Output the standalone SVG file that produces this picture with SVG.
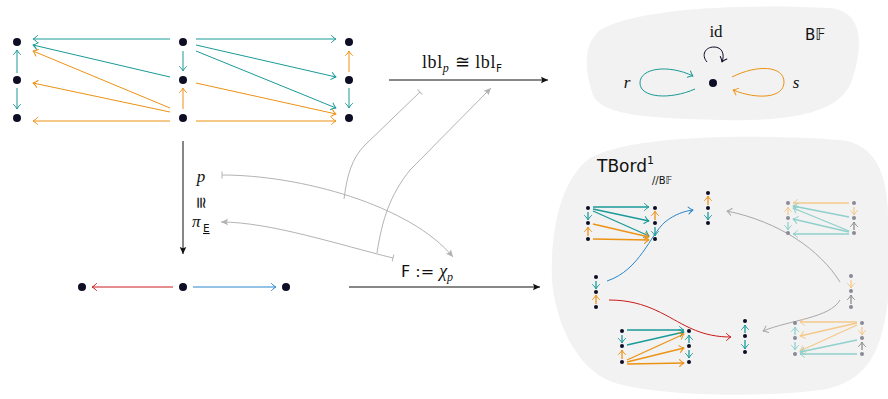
<svg xmlns="http://www.w3.org/2000/svg" width="888" height="399" viewBox="0 0 888 399">
<style>
.n{fill:#0d0d26}
.nf{fill:#8a8a99}
.ln{fill:none;stroke-width:1}
.sm{fill:none;stroke-width:1.3}
.t{stroke:#1a9a98}
.o{stroke:#ec9215}
.lt{stroke:#8fd0cc}
.lo{stroke:#f5c98a}
.gs{stroke:#8c8c8c}
.gc{fill:none;stroke:#b3b3b3;stroke-width:1}
.blob{fill:#f2f2f2}
.serif{font-family:"Liberation Serif","DejaVu Serif",serif;fill:#111}
.sans{font-family:"DejaVu Sans","Noto Sans",sans-serif;fill:#111}
.mh{fill:none;stroke-width:1;stroke-linecap:round;stroke-linejoin:round}
</style>
<defs>
<marker id="ht" viewBox="-6 -5 8 10" refX="0" refY="0" markerWidth="8" markerHeight="10" markerUnits="userSpaceOnUse" orient="auto"><path class="mh" stroke="#1a9a98" d="M-4.5,-3.5 C-2.5,-1.3 -0.8,-0.4 0,0 C-0.8,0.4 -2.5,1.3 -4.5,3.5"/></marker>
<marker id="ho" viewBox="-6 -5 8 10" refX="0" refY="0" markerWidth="8" markerHeight="10" markerUnits="userSpaceOnUse" orient="auto"><path class="mh" stroke="#ec9215" d="M-4.5,-3.5 C-2.5,-1.3 -0.8,-0.4 0,0 C-0.8,0.4 -2.5,1.3 -4.5,3.5"/></marker>
<marker id="hlt" viewBox="-6 -5 8 10" refX="0" refY="0" markerWidth="8" markerHeight="10" markerUnits="userSpaceOnUse" orient="auto"><path class="mh" stroke="#8fd0cc" d="M-4.5,-3.5 C-2.5,-1.3 -0.8,-0.4 0,0 C-0.8,0.4 -2.5,1.3 -4.5,3.5"/></marker>
<marker id="hlo" viewBox="-6 -5 8 10" refX="0" refY="0" markerWidth="8" markerHeight="10" markerUnits="userSpaceOnUse" orient="auto"><path class="mh" stroke="#f5c98a" d="M-4.5,-3.5 C-2.5,-1.3 -0.8,-0.4 0,0 C-0.8,0.4 -2.5,1.3 -4.5,3.5"/></marker>
<marker id="hgs" viewBox="-6 -5 8 10" refX="0" refY="0" markerWidth="8" markerHeight="10" markerUnits="userSpaceOnUse" orient="auto"><path class="mh" stroke="#8c8c8c" d="M-4.5,-3.5 C-2.5,-1.3 -0.8,-0.4 0,0 C-0.8,0.4 -2.5,1.3 -4.5,3.5"/></marker>
<marker id="hgc" viewBox="-6 -5 8 10" refX="0" refY="0" markerWidth="8" markerHeight="10" markerUnits="userSpaceOnUse" orient="auto"><path class="mh" stroke="#a8a8a8" d="M-4.5,-3.5 C-2.5,-1.3 -0.8,-0.4 0,0 C-0.8,0.4 -2.5,1.3 -4.5,3.5"/></marker>
<marker id="hr" viewBox="-6 -5 8 10" refX="0" refY="0" markerWidth="8" markerHeight="10" markerUnits="userSpaceOnUse" orient="auto"><path class="mh" stroke="#cc1a1a" d="M-4.5,-3.5 C-2.5,-1.3 -0.8,-0.4 0,0 C-0.8,0.4 -2.5,1.3 -4.5,3.5"/></marker>
<marker id="hb" viewBox="-6 -5 8 10" refX="0" refY="0" markerWidth="8" markerHeight="10" markerUnits="userSpaceOnUse" orient="auto"><path class="mh" stroke="#2a86cc" d="M-4.5,-3.5 C-2.5,-1.3 -0.8,-0.4 0,0 C-0.8,0.4 -2.5,1.3 -4.5,3.5"/></marker>
<marker id="hn" viewBox="-6 -5 8 10" refX="0" refY="0" markerWidth="8" markerHeight="10" markerUnits="userSpaceOnUse" orient="auto"><path class="mh" stroke="#0d0d26" d="M-4.5,-3.5 C-2.5,-1.3 -0.8,-0.4 0,0 C-0.8,0.4 -2.5,1.3 -4.5,3.5"/></marker>
<marker id="fk" viewBox="-8 -5 9 10" refX="0" refY="0" markerWidth="9" markerHeight="10" markerUnits="userSpaceOnUse" orient="auto"><path fill="#111" d="M-7,-3.3 L0,0 L-7,3.3 L-5.8,0 Z"/></marker>
<marker id="fg" viewBox="-8 -5 9 10" refX="0" refY="0" markerWidth="9" markerHeight="10" markerUnits="userSpaceOnUse" orient="auto"><path fill="#b3b3b3" d="M-7,-3.3 L0,0 L-7,3.3 L-5.8,0 Z"/></marker>
<marker id="bar" viewBox="-2 -5 4 10" refX="0" refY="0" markerWidth="4" markerHeight="10" markerUnits="userSpaceOnUse" orient="auto"><path stroke="#b3b3b3" stroke-width="1" d="M0,-3.5 L0,3.5"/></marker>
</defs>

<g id="blob-top"><path class="blob" d="M600,30 C640,6 760,4 830,8 C866,12 862,50 852,80 C842,110 800,122 720,120 C650,118 602,116 593,95 C585,72 582,45 600,30 Z"/></g>
<g id="blob-bottom"><path class="blob" d="M590,158 C632,134 760,134 840,140 C878,144 888,178 888,220 L888,300 C882,345 872,382 820,390 C760,398 652,396 612,382 C575,368 555,320 552,280 C550,232 560,180 590,158 Z"/></g>

<g id="graph-top">
<g id="n-l1"><circle class="n" cx="17" cy="42" r="4"/></g>
<g id="n-l2"><circle class="n" cx="17" cy="80" r="4"/></g>
<g id="n-l3"><circle class="n" cx="17" cy="118" r="4"/></g>
<g id="n-m1"><circle class="n" cx="183" cy="42" r="4"/></g>
<g id="n-m2"><circle class="n" cx="183" cy="80" r="4"/></g>
<g id="n-m3"><circle class="n" cx="183" cy="118" r="4"/></g>
<g id="n-r1"><circle class="n" cx="349" cy="42" r="4"/></g>
<g id="n-r2"><circle class="n" cx="349" cy="80" r="4"/></g>
<g id="n-r3"><circle class="n" cx="349" cy="118" r="4"/></g>
</g>

<g id="graph-bottom">
<g id="n-b1"><circle class="n" cx="82" cy="287" r="4"/></g>
<g id="n-b2"><circle class="n" cx="183" cy="287" r="4"/></g>
<g id="n-b3"><circle class="n" cx="286" cy="287" r="4"/></g>
</g>

<g id="connectors">
<path class="ln t" d="M170,39 L33,39" marker-end="url(#ht)"/>
<path class="ln t" d="M170,77 L33,45" marker-end="url(#ht)"/>
<path class="ln o" d="M170,108 L33,51" marker-end="url(#ho)"/>
<path class="ln o" d="M170,112 L33,83" marker-end="url(#ho)"/>
<path class="ln o" d="M170,121 L33,121" marker-end="url(#ho)"/>
<path class="ln t" d="M196,39 L336,39" marker-end="url(#ht)"/>
<path class="ln t" d="M196,45 L336,77" marker-end="url(#ht)"/>
<path class="ln t" d="M196,51 L336,108" marker-end="url(#ht)"/>
<path class="ln o" d="M196,83 L336,114" marker-end="url(#ho)"/>
<path class="ln o" d="M196,121 L336,121" marker-end="url(#ho)"/>
<path class="ln t" d="M17,73 L17,50" marker-end="url(#ht)"/>
<path class="ln t" d="M17,88 L17,109" marker-end="url(#ht)"/>
<path class="ln t" d="M183,51 L183,71" marker-end="url(#ht)"/>
<path class="ln o" d="M183,109 L183,88" marker-end="url(#ho)"/>
<path class="ln o" d="M349,72 L349,51" marker-end="url(#ho)"/>
<path class="ln t" d="M349,88 L349,108" marker-end="url(#ht)"/>
<path class="ln" stroke="#cc1a1a" d="M173,287 L92,287" marker-end="url(#hr)"/>
<path class="ln" stroke="#2a86cc" d="M193,287 L276,287" marker-end="url(#hb)"/>
<path class="ln" stroke="#111" d="M183,141 L183,254" marker-end="url(#fk)"/>
<path class="ln" stroke="#111" d="M389,80 L548,80" marker-end="url(#fk)"/>
<path class="ln" stroke="#111" d="M349,287 L540,287" marker-end="url(#fk)"/>
<path class="gc" d="M222,175 C300,175 410,205 453,257" marker-start="url(#bar)" marker-end="url(#fg)"/>
<path class="gc" d="M393,258 C340,245 270,222 221,222" marker-start="url(#bar)" marker-end="url(#fg)"/>
<path class="gc" d="M344,199 C347,175 352,158 365,145 L420,92" marker-end="url(#bar)"/>
<path class="gc" d="M377,253 C382,220 390,195 410,170 L491,88" marker-end="url(#fg)"/>
<path class="ln" stroke="#0d0d26" d="M707,62 C701,55 705,47 714,47 C722,47 725,54 722,62" marker-end="url(#hn)"/>
<path class="ln t" d="M695,89 C670,100 640,98 640,83 C640,68 668,64 693,76" marker-end="url(#ht)"/>
<path class="ln o" d="M732,77 C758,64 784,66 784,82 C784,98 758,100 733,90" marker-end="url(#ho)"/>
<path class="ln" stroke="#2a86cc" d="M607,281 C640,270 650,235 665,222 C675,214 685,211 693,210" marker-end="url(#hb)"/>
<path class="ln" stroke="#cc1a1a" d="M609,300 C648,300 668,318 690,328 C705,335 718,337 731,337" marker-end="url(#hr)"/>
<path class="ln" stroke="#a8a8a8" d="M840,282 C820,250 780,222 727,211" marker-end="url(#hgc)"/>
<path class="ln" stroke="#a8a8a8" d="M840,300 C830,318 790,320 763,331" marker-end="url(#hgc)"/>
</g>

<g id="bf-point">
<circle class="n" cx="713" cy="83" r="4"/>
</g>

<g id="mini-a">
<circle class="n" cx="588" cy="208" r="2"/><circle class="n" cx="588" cy="223" r="2"/><circle class="n" cx="588" cy="239" r="2"/>
<circle class="n" cx="655" cy="208" r="2"/><circle class="n" cx="655" cy="223" r="2"/><circle class="n" cx="655" cy="239" r="2"/>
<path class="sm t" d="M593,207 L649,207" marker-end="url(#ht)"/>
<path class="sm t" d="M593,209 L649,221" marker-end="url(#ht)"/>
<path class="sm t" d="M593,211 L649,236" marker-end="url(#ht)"/>
<path class="sm o" d="M593,224 L649,237" marker-end="url(#ho)"/>
<path class="sm o" d="M593,239 L649,240" marker-end="url(#ho)"/>
<path class="sm t" d="M588,212 L588,220" marker-end="url(#ht)"/>
<path class="sm o" d="M588,236 L588,227" marker-end="url(#ho)"/>
<path class="sm o" d="M655,220 L655,211" marker-end="url(#ho)"/>
<path class="sm t" d="M655,227 L655,236" marker-end="url(#ht)"/>
</g>
<g id="mini-b">
<circle class="n" cx="708" cy="193" r="2"/><circle class="n" cx="708" cy="208" r="2"/><circle class="n" cx="708" cy="223" r="2"/>
<path class="sm o" d="M708,205 L708,196" marker-end="url(#ho)"/>
<path class="sm t" d="M708,212 L708,220" marker-end="url(#ht)"/>
</g>
<g id="mini-c">
<circle class="n" cx="596" cy="277" r="2"/><circle class="n" cx="596" cy="292" r="2"/><circle class="n" cx="596" cy="307" r="2"/>
<path class="sm t" d="M596,281 L596,289" marker-end="url(#ht)"/>
<path class="sm o" d="M596,304 L596,295" marker-end="url(#ho)"/>
</g>
<g id="mini-d">
<circle class="n" cx="622" cy="331" r="2"/><circle class="n" cx="622" cy="346" r="2"/><circle class="n" cx="622" cy="362" r="2"/>
<circle class="n" cx="689" cy="331" r="2"/><circle class="n" cx="689" cy="346" r="2"/><circle class="n" cx="689" cy="362" r="2"/>
<path class="sm t" d="M627,330 L684,330" marker-end="url(#ht)"/>
<path class="sm t" d="M627,345 L684,332" marker-end="url(#ht)"/>
<path class="sm o" d="M627,360 L684,334" marker-end="url(#ho)"/>
<path class="sm o" d="M627,362 L684,348" marker-end="url(#ho)"/>
<path class="sm o" d="M627,364 L684,363" marker-end="url(#ho)"/>
<path class="sm t" d="M622,335 L622,343" marker-end="url(#ht)"/>
<path class="sm o" d="M622,359 L622,350" marker-end="url(#ho)"/>
<path class="sm t" d="M689,343 L689,335" marker-end="url(#ht)"/>
<path class="sm t" d="M689,350 L689,358" marker-end="url(#ht)"/>
</g>
<g id="mini-e">
<circle class="n" cx="745" cy="321" r="2"/><circle class="n" cx="745" cy="336" r="2"/><circle class="n" cx="745" cy="352" r="2"/>
<path class="sm t" d="M745,333 L745,325" marker-end="url(#ht)"/>
<path class="sm t" d="M745,340 L745,349" marker-end="url(#ht)"/>
</g>
<g id="mini-f">
<circle class="nf" cx="788" cy="203" r="2"/><circle class="nf" cx="788" cy="218" r="2"/><circle class="nf" cx="788" cy="233" r="2"/>
<circle class="nf" cx="854" cy="203" r="2"/><circle class="nf" cx="854" cy="218" r="2"/><circle class="nf" cx="854" cy="233" r="2"/>
<path class="sm lo" d="M849,203 L793,203" marker-end="url(#hlo)"/>
<path class="sm lt" d="M849,217 L793,206" marker-end="url(#hlt)"/>
<path class="sm lt" d="M849,231 L793,208" marker-end="url(#hlt)"/>
<path class="sm lt" d="M849,232 L793,219" marker-end="url(#hlt)"/>
<path class="sm lt" d="M849,234 L793,234" marker-end="url(#hlt)"/>
<path class="sm lo" d="M788,215 L788,207" marker-end="url(#hlo)"/>
<path class="sm lt" d="M788,222 L788,230" marker-end="url(#hlt)"/>
<path class="sm lo" d="M854,207 L854,215" marker-end="url(#hlo)"/>
<path class="sm gs" d="M854,230 L854,222" marker-end="url(#hgs)"/>
</g>
<g id="mini-g">
<circle class="nf" cx="851" cy="276" r="2"/><circle class="nf" cx="851" cy="291" r="2"/><circle class="nf" cx="851" cy="307" r="2"/>
<path class="sm lo" d="M851,280 L851,288" marker-end="url(#hlo)"/>
<path class="sm gs" d="M851,304 L851,295" marker-end="url(#hgs)"/>
</g>
<g id="mini-h">
<circle class="nf" cx="795" cy="323" r="2"/><circle class="nf" cx="795" cy="338" r="2"/><circle class="nf" cx="795" cy="354" r="2"/>
<circle class="nf" cx="862" cy="323" r="2"/><circle class="nf" cx="862" cy="338" r="2"/><circle class="nf" cx="862" cy="354" r="2"/>
<path class="sm lo" d="M857,322 L800,322" marker-end="url(#hlo)"/>
<path class="sm lo" d="M857,323 L800,336" marker-end="url(#hlo)"/>
<path class="sm lo" d="M857,325 L800,351" marker-end="url(#hlo)"/>
<path class="sm lt" d="M857,340 L800,352" marker-end="url(#hlt)"/>
<path class="sm lt" d="M857,354 L800,354" marker-end="url(#hlt)"/>
<path class="sm lt" d="M795,335 L795,327" marker-end="url(#hlt)"/>
<path class="sm lt" d="M795,342 L795,350" marker-end="url(#hlt)"/>
<path class="sm lo" d="M862,327 L862,335" marker-end="url(#hlo)"/>
<path class="sm gs" d="M862,350 L862,342" marker-end="url(#hgs)"/>
</g>

<g id="labels">
<text class="serif" x="201" y="182" font-size="17" font-style="italic" text-anchor="middle">p</text>
<text class="serif" font-size="16" text-anchor="middle" transform="translate(201,202) rotate(90)" dy="5">≅</text>
<text class="serif" x="192" y="227" font-size="17" font-style="italic">π</text>
<text class="sans" x="203" y="232" font-size="10.5" text-decoration="underline">E</text>
<text class="serif" x="422" y="68" font-size="18" letter-spacing="0.6">lbl<tspan font-style="italic" font-size="12" dy="4">p</tspan><tspan dy="-4"> ≅ lbl</tspan><tspan class="sans" font-size="10.5" dy="4">F</tspan></text>
<text class="sans" x="401" y="277" font-size="16">F := <tspan class="serif" font-style="italic" font-size="18">χ</tspan><tspan class="serif" font-style="italic" font-size="12" dy="4">p</tspan></text>
<text class="serif" x="716" y="37" font-size="17" text-anchor="middle">id</text>
<text class="serif" x="627" y="88" font-size="17" font-style="italic" text-anchor="middle">r</text>
<text class="serif" x="796" y="88" font-size="17" font-style="italic" text-anchor="middle">s</text>
<text class="sans" x="805" y="40" font-size="15">B𝔽</text>
<text class="sans" x="597" y="172" font-size="17">TBord<tspan font-size="11" dy="-8">1</tspan></text>
<text class="sans" x="652" y="184" font-size="10">//B𝔽</text>
</g>
</svg>
